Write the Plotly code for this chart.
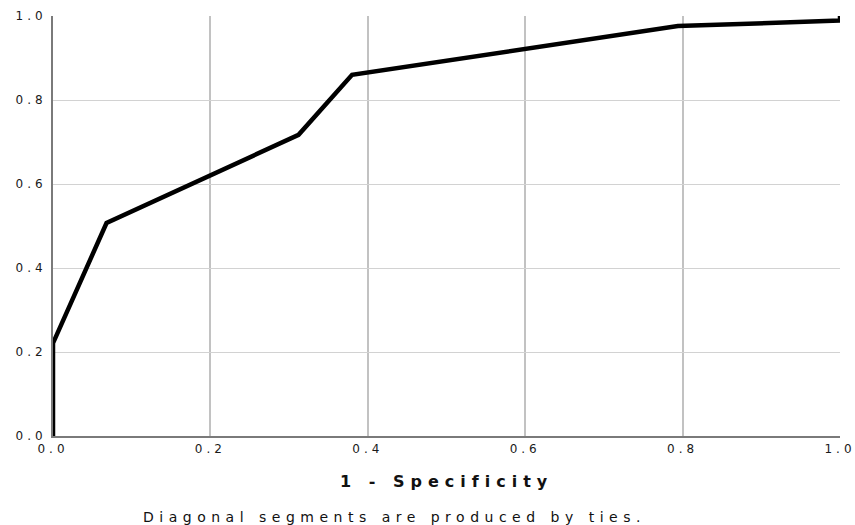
import plotly.graph_objects as go

# ROC curve points
fpr = [0.0, 0.0, 0.068, 0.312, 0.380, 0.794, 1.0, 1.0]
tpr = [0.0, 0.221, 0.507, 0.717, 0.860, 0.976, 0.989, 1.0]

tick_vals = [0.0, 0.2, 0.4, 0.6, 0.8, 1.0]
tick_labels = ["0.0", "0.2", "0.4", "0.6", "0.8", "1.0"]
x_title = "1 - Specificity"
caption = "Diagonal segments are produced by ties."

FONT = "DejaVu Sans, Liberation Sans, Arial, sans-serif"


def spaced(s, ls):
    return '<span style="letter-spacing:%spx">%s</span>' % (ls, s)


fig = go.Figure()
fig.add_trace(go.Scatter(
    x=fpr, y=tpr, mode="lines",
    line=dict(color="#000000", width=4.5),
    showlegend=False, hoverinfo="skip",
))

fig.update_layout(
    width=855, height=525,
    margin=dict(l=53, r=15, t=16, b=89),
    paper_bgcolor="white", plot_bgcolor="white",
    font=dict(family=FONT, size=12, color="#222222"),
    showlegend=False,
)

fig.update_xaxes(
    range=[0, 1], tickvals=tick_vals,
    ticktext=[spaced(t, 4) for t in tick_labels],
    showgrid=True, gridcolor="#c2c2c2", gridwidth=2,
    showline=True, linecolor="#7a7a7a", linewidth=2,
    zeroline=False, ticks="", ticklabelstandoff=1,
    ticklabeloverflow="allow", automargin=False,
    tickfont=dict(family=FONT, size=12, color="#1a1a1a"),
    fixedrange=True,
)
fig.update_yaxes(
    range=[0, 1], tickvals=tick_vals,
    ticktext=[spaced(t, 4) for t in tick_labels],
    showgrid=True, gridcolor="#d2d2d2", gridwidth=1,
    showline=True, linecolor="#7a7a7a", linewidth=2,
    zeroline=False, ticks="", ticklabelstandoff=2,
    ticklabeloverflow="allow", automargin=False,
    tickfont=dict(family=FONT, size=12, color="#1a1a1a"),
    fixedrange=True,
)

fig.add_annotation(
    text=spaced("<b>%s</b>" % x_title, 6),
    xref="paper", yref="paper", x=0.5, y=-0.1095,
    xanchor="center", yanchor="middle", showarrow=False,
    font=dict(family=FONT, size=16, color="#111111"),
)
fig.add_annotation(
    text=spaced(caption, 5.5),
    xref="paper", yref="paper", x=0.434, y=-0.193,
    xanchor="center", yanchor="middle", showarrow=False,
    font=dict(family=FONT, size=14, color="#111111"),
)

# remove the browser's default 8px body margin so the figure sits at (0, 0)
fig.write_html(
    "out.html",
    config={"displayModeBar": False, "staticPlot": True},
    post_script="document.body.style.margin='0';document.body.style.overflow='hidden';",
)
